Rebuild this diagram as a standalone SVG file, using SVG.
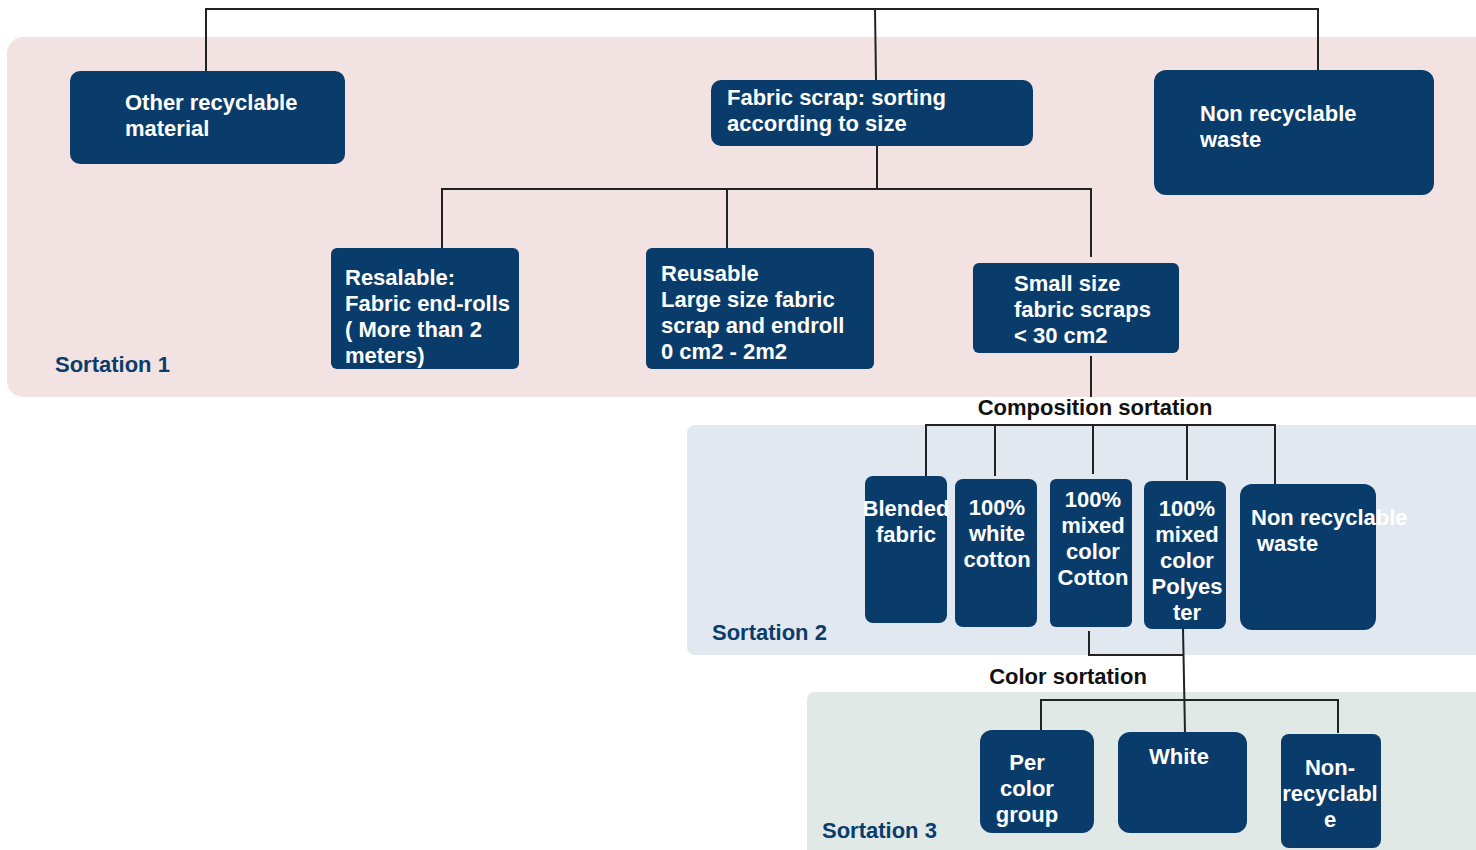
<svg xmlns="http://www.w3.org/2000/svg" width="1476" height="850" viewBox="0 0 1476 850">
<style>
.node{fill:#0a3c6b;}
.t{font-family:"Liberation Sans",Arial,sans-serif;font-weight:bold;font-size:22px;fill:#ffffff;}
.c{text-anchor:middle;}
.lbl{font-family:"Liberation Sans",Arial,sans-serif;font-weight:bold;font-size:22px;fill:#0a3c6b;}
.hd{font-family:"Liberation Sans",Arial,sans-serif;font-weight:bold;font-size:22px;fill:#111111;}
.ln{fill:none;stroke:#222222;stroke-width:2;}
</style>
<rect width="1476" height="850" fill="#ffffff"/>
<g id="panels">
<rect x="7" y="37" width="1490" height="360" rx="16" fill="#f2e3e2"/>
<rect x="687" y="425" width="810" height="230" rx="8" fill="#e2e8ef"/>
<rect x="807" y="692" width="690" height="180" rx="8" fill="#e0e9e6"/>
</g>
<g id="connectors">
<polyline class="ln" points="206,72 206,9 1318,9 1318,70"/>
<line class="ln" x1="875" y1="9" x2="876" y2="80"/>
<line class="ln" x1="877" y1="146" x2="877" y2="189"/>
<polyline class="ln" points="442,260 442,189 1091,189 1091,257"/>
<line class="ln" x1="727" y1="189" x2="727" y2="248"/>
<line class="ln" x1="1091" y1="356" x2="1091" y2="397"/>
<polyline class="ln" points="926,476 926,425 1275,425 1275,485"/>
<line class="ln" x1="995" y1="425" x2="995" y2="476"/>
<line class="ln" x1="1093" y1="425" x2="1093" y2="474"/>
<line class="ln" x1="1187" y1="425" x2="1187" y2="480"/>
<polyline class="ln" points="1089,631 1089,655 1183,655"/>
<line class="ln" x1="1183" y1="628" x2="1185" y2="733"/>
<polyline class="ln" points="1041,731 1041,700 1338,700 1338,733"/>
</g>
<g id="labels">
<text class="lbl" x="55" y="372">Sortation 1</text>
<text class="lbl" x="712" y="640">Sortation 2</text>
<text class="lbl" x="822" y="838">Sortation 3</text>
<text class="hd c" x="1095" y="415">Composition sortation</text>
<text class="hd c" x="1068" y="684">Color sortation</text>
</g>
<g id="n-other">
<rect class="node" x="70" y="71" width="275" height="93" rx="10"/>
<text class="t" x="125" y="110">Other recyclable</text>
<text class="t" x="125" y="136">material</text>
</g>
<g id="n-fabricscrap">
<rect class="node" x="711" y="80" width="322" height="66" rx="10"/>
<text class="t" x="727" y="105">Fabric scrap: sorting</text>
<text class="t" x="727" y="131">according to size</text>
</g>
<g id="n-nonrec1">
<rect class="node" x="1154" y="70" width="280" height="125" rx="12"/>
<text class="t" x="1200" y="121">Non recyclable</text>
<text class="t" x="1200" y="147">waste</text>
</g>
<g id="n-resalable">
<rect class="node" x="331" y="248" width="188" height="121" rx="6"/>
<text class="t" x="345" y="285">Resalable:</text>
<text class="t" x="345" y="311">Fabric end-rolls</text>
<text class="t" x="345" y="337">( More than 2</text>
<text class="t" x="345" y="363">meters)</text>
</g>
<g id="n-reusable">
<rect class="node" x="646" y="248" width="228" height="121" rx="6"/>
<text class="t" x="661" y="281">Reusable</text>
<text class="t" x="661" y="307">Large size fabric</text>
<text class="t" x="661" y="333">scrap and endroll</text>
<text class="t" x="661" y="359">0 cm2 - 2m2</text>
</g>
<g id="n-small">
<rect class="node" x="973" y="263" width="206" height="90" rx="6"/>
<text class="t" x="1014" y="291">Small size</text>
<text class="t" x="1014" y="317">fabric scraps</text>
<text class="t" x="1014" y="343">&lt; 30 cm2</text>
</g>
<g id="n-blended">
<rect class="node" x="865" y="476" width="82" height="147" rx="8"/>
<text class="t c" x="906" y="516">Blended</text>
<text class="t c" x="906" y="542">fabric</text>
</g>
<g id="n-whitecotton">
<rect class="node" x="955" y="479" width="82" height="148" rx="8"/>
<text class="t c" x="997" y="515">100%</text>
<text class="t c" x="997" y="541">white</text>
<text class="t c" x="997" y="567">cotton</text>
</g>
<g id="n-mixcotton">
<rect class="node" x="1050" y="479" width="82" height="148" rx="6"/>
<text class="t c" x="1093" y="507">100%</text>
<text class="t c" x="1093" y="533">mixed</text>
<text class="t c" x="1093" y="559">color</text>
<text class="t c" x="1093" y="585">Cotton</text>
</g>
<g id="n-mixpoly">
<rect class="node" x="1144" y="481" width="82" height="148" rx="8"/>
<text class="t c" x="1187" y="516">100%</text>
<text class="t c" x="1187" y="542">mixed</text>
<text class="t c" x="1187" y="568">color</text>
<text class="t c" x="1187" y="594">Polyes</text>
<text class="t c" x="1187" y="620">ter</text>
</g>
<g id="n-nonrec2">
<rect class="node" x="1240" y="484" width="136" height="146" rx="12"/>
<text class="t" x="1251" y="525">Non recyclable</text>
<text class="t" x="1257" y="551">waste</text>
</g>
<g id="n-percolor">
<rect class="node" x="980" y="730" width="114" height="103" rx="12"/>
<text class="t c" x="1027" y="770">Per</text>
<text class="t c" x="1027" y="796">color</text>
<text class="t c" x="1027" y="822">group</text>
</g>
<g id="n-white">
<rect class="node" x="1118" y="732" width="129" height="101" rx="12"/>
<text class="t c" x="1179" y="764">White</text>
</g>
<g id="n-nonrec3">
<rect class="node" x="1281" y="734" width="100" height="114" rx="8"/>
<text class="t c" x="1330" y="775">Non-</text>
<text class="t c" x="1330" y="801">recyclabl</text>
<text class="t c" x="1330" y="827">e</text>
</g>
</svg>
